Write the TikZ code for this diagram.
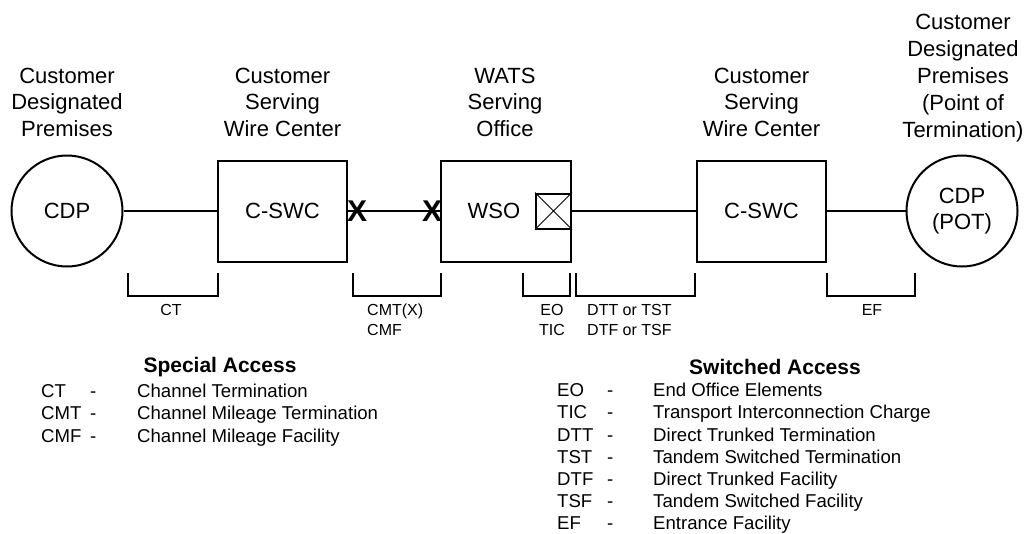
\documentclass[tikz,border=0pt]{standalone}
\usepackage{fontspec}
\setmainfont{Liberation Sans}
\usepackage{array}
\begin{document}
\begin{tikzpicture}[x=1pt,y=-1pt,
  hdr/.style={align=center,inner sep=0pt,font=\fontsize{22}{26.5}\selectfont},
  blk/.style={draw,line width=2pt,minimum width=129pt,minimum height=101pt,inner sep=0pt,font=\fontsize{22}{26.5}\selectfont},
  circ/.style={circle,draw,line width=2pt,minimum size=111pt,inner sep=0pt,align=center,font=\fontsize{22}{26.5}\selectfont},
  conn/.style={line width=2pt},
  brk/.style={line width=2pt},
  xmark/.style={inner sep=0pt,font=\fontsize{30}{30}\selectfont\bfseries},
  small/.style={inner sep=0pt,font=\fontsize{16}{20}\selectfont},
  leg/.style={inner sep=0pt,anchor=north west,font=\fontsize{18.6}{22.2}\selectfont},
  legh/.style={inner sep=0pt,font=\fontsize{21}{25}\selectfont\bfseries}]
\useasboundingbox (0,0) rectangle (1027,533);

% header labels
\node[hdr] (h1) at (67,102) {Customer\\Designated\\Premises};
\node[hdr] (h2) at (282.5,102) {Customer\\Serving\\Wire Center};
\node[hdr] (h3) at (505,102) {WATS\\Serving\\Office};
\node[hdr] (h4) at (761.5,102) {Customer\\Serving\\Wire Center};
\node[hdr,font=\fontsize{22}{27}\selectfont] (h5) at (963,78) {Customer\\Designated\\Premises\\(Point of\\Termination)};

% main chain
\node[circ] (cdp1) at (67,211) {CDP};
\node[blk] (swc1) at (282.5,211) {C-SWC};
\node[blk,minimum width=130pt] (wso) at (506,211) {};
\node[inner sep=0pt,font=\fontsize{22}{26.5}\selectfont] (wsotxt) at (494,211) {WSO};
\node[draw,line width=2pt,minimum size=35pt,inner sep=0pt,anchor=east] (sw) at (wso.east) {};
\draw[line width=0.8pt] (sw.north west) -- (sw.south east) (sw.north east) -- (sw.south west);
\node[blk] (swc2) at (761.5,211) {C-SWC};
\node[circ] (cdp2) at (962,211) {CDP\\(POT)};

\draw[conn] (cdp1) -- (swc1);
\draw[conn] (swc1) -- (wso);
\draw[conn] (wso.east) -- (swc2.west);
\draw[conn] (swc2) -- (cdp2);
\node[xmark] (x1) at (357,211) {X};
\node[xmark] (x2) at (432,211) {X};

% brackets
\draw[brk] (128,273) -- (128,296) -- (218,296) -- (218,273);
\draw[brk] (353,273) -- (353,296) -- (441,296) -- (441,273);
\draw[brk] (523,273) -- (523,296) -- (570,296) -- (570,273);
\draw[brk] (576,273) -- (576,296) -- (695,296) -- (695,273);
\draw[brk] (827,273) -- (827,296) -- (915,296) -- (915,273);

% bracket labels
\node[small,anchor=north] (lct) at (171,304) {CT};
\node[small,anchor=north west,align=left] (lcmt) at (367,304) {CMT(X)\\CMF};
\node[small,anchor=north,align=center] (leo) at (552,304) {EO\\TIC};
\node[small,anchor=north west,align=left] (ldtt) at (587,304) {DTT or TST\\DTF or TSF};
\node[small,anchor=north] (lef) at (872,304) {EF};

% legends
\node[legh] (sa) at (220,367) {Special Access};
\node[leg] (salist) at (41,382) {\renewcommand\arraystretch{1}\begin{tabular}{@{}p{49pt}@{}p{47pt}@{}l@{}}
CT & - & Channel Termination\\
CMT & - & Channel Mileage Termination\\
CMF & - & Channel Mileage Facility
\end{tabular}};

\node[legh] (swa) at (775,367) {Switched Access};
\node[leg] (swlist) at (557,381) {\renewcommand\arraystretch{1}\begin{tabular}{@{}p{50pt}@{}p{46pt}@{}l@{}}
EO & - & End Office Elements\\
TIC & - & Transport Interconnection Charge\\
DTT & - & Direct Trunked Termination\\
TST & - & Tandem Switched Termination\\
DTF & - & Direct Trunked Facility\\
TSF & - & Tandem Switched Facility\\
EF & - & Entrance Facility
\end{tabular}};
\end{tikzpicture}
\end{document}
